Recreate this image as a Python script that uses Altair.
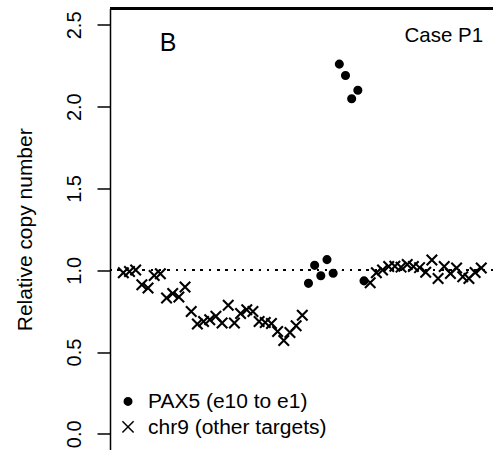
import altair as alt
import pandas as pd

# target positions (1-based order along chr9)
chr9_pos = [1, 2, 3, 4, 5, 6, 7, 8, 9, 10, 11, 12, 13, 14, 15, 16, 17, 18, 19, 20,
            21, 22, 23, 24, 25, 26, 27, 28, 29, 30,
            41, 42, 43, 44, 45, 46, 47, 48, 49, 50, 51, 52, 53, 54, 55, 56, 57, 58, 59]
chr9_val = [0.985, 0.992, 1.002, 0.911, 0.891, 0.968, 0.978, 0.831, 0.858, 0.837,
            0.897, 0.748, 0.672, 0.686, 0.697, 0.719, 0.677, 0.786, 0.677, 0.735,
            0.758, 0.748, 0.686, 0.680, 0.675, 0.625, 0.570, 0.619, 0.660, 0.725,
            0.923, 0.984, 1.002, 1.023, 1.025, 1.019, 1.035, 1.023, 1.016, 0.987,
            1.062, 0.949, 1.023, 0.980, 1.013, 0.960, 0.950, 0.986, 1.014]
pax5_pos = [31, 32, 33, 34, 35, 36, 37, 38, 39, 40]
pax5_val = [0.920, 1.030, 0.966, 1.065, 0.982, 2.260, 2.190, 2.048, 2.100, 0.935]

series_names = ["PAX5 (e10 to e1)", "chr9 (other targets)"]

# annotation / legend anchor positions in data units
ann_x = [6.9, 59.3]
ann_y = [2.343, 2.393]
ann_text = ["B", "Case P1"]
leg_sym_x = [1.76, 1.76]
leg_sym_y = [0.198, 0.043]
leg_txt_x = [5.0, 5.0]
leg_txt_y = [0.157, 0.002]

FONT = "Liberation Sans"
CROSS = "M-1.5,-1.5L1.5,1.5M-1.5,1.5L1.5,-1.5"
CROSS_SMALL = "M-1.25,-1.25L1.25,1.25M-1.25,1.25L1.25,-1.25"

df = pd.DataFrame({
    "pos": pax5_pos + chr9_pos,
    "val": pax5_val + chr9_val,
    "series": [series_names[0]] * len(pax5_pos) + [series_names[1]] * len(chr9_pos),
})
ann = pd.DataFrame({"x": ann_x, "y": ann_y, "t": ann_text})
leg = pd.DataFrame({"sx": leg_sym_x, "sy": leg_sym_y, "tx": leg_txt_x, "ty": leg_txt_y,
                    "series": series_names})

xscale = alt.Scale(domain=[-1.16, 60.9], nice=False, zero=False)
yscale = alt.Scale(domain=[-0.1, 2.6], nice=False, zero=False)

points = alt.Chart(df).mark_point(
    filled=False, fill="black", stroke="black", strokeWidth=2.1, opacity=1,
    fillOpacity=1, strokeOpacity=1, size=49
).encode(
    x=alt.X("pos:Q", scale=xscale,
            axis=alt.Axis(title=None, labels=False, ticks=False, grid=False,
                          domain=True, domainColor="black", domainWidth=1.5)),
    y=alt.Y("val:Q", scale=yscale,
            axis=alt.Axis(title="Relative copy number", values=[0, 0.5, 1.0, 1.5, 2.0, 2.5],
                          format=".1f", grid=False, domainColor="black", domainWidth=1.5,
                          tickColor="black", tickWidth=1.5, tickSize=13,
                          labelFont=FONT, labelFontSize=20, labelColor="black",
                          labelAngle=270, labelAlign="center", labelBaseline="alphabetic",
                          labelPadding=17,
                          titleFont=FONT, titleFontSize=21, titleFontWeight="normal",
                          titleColor="black", titleAngle=270, titleAlign="center",
                          titleBaseline="alphabetic", titleX=-78.5, titleY=220.8)),
    shape=alt.Shape("series:N",
                    scale=alt.Scale(domain=series_names, range=["circle", CROSS]),
                    legend=None),
)

leg_syms = alt.Chart(leg).mark_point(
    filled=False, fill="black", stroke="black", strokeWidth=1.5, opacity=1,
    fillOpacity=1, strokeOpacity=1, size=56
).encode(
    x=alt.X("sx:Q", scale=xscale),
    y=alt.Y("sy:Q", scale=yscale),
    shape=alt.Shape("series:N",
                    scale=alt.Scale(domain=series_names, range=["circle", CROSS_SMALL]),
                    legend=None),
)

leg_text = alt.Chart(leg).mark_text(
    font=FONT, fontSize=21, align="left", baseline="alphabetic", color="black"
).encode(x=alt.X("tx:Q", scale=xscale), y=alt.Y("ty:Q", scale=yscale), text="series:N")

ref = alt.Chart(df).mark_rule(color="black", strokeWidth=1.3, strokeDash=[1.6, 6.7]).encode(
    y=alt.datum(1.0)
)

top_border = alt.Chart(df).mark_rule(color="black", strokeWidth=1.5).encode(
    y=alt.value(0)
)

b_text = alt.Chart(ann[ann.t == "B"]).mark_text(
    font=FONT, fontSize=25, align="left", baseline="alphabetic", color="black"
).encode(x=alt.X("x:Q", scale=xscale), y=alt.Y("y:Q", scale=yscale), text="t:N")

case_text = alt.Chart(ann[ann.t == "Case P1"]).mark_text(
    font=FONT, fontSize=20.5, align="right", baseline="alphabetic", color="black"
).encode(x=alt.X("x:Q", scale=xscale), y=alt.Y("y:Q", scale=yscale), text="t:N")

chart = alt.layer(ref, top_border, points, leg_syms, leg_text, b_text, case_text).properties(
    width=383, height=441.7,
    autosize=alt.AutoSizeParams(type="none"),
    padding={"left": 110, "top": 8.5, "right": 0, "bottom": 0},
    background="white",
).configure_view(stroke=None)

chart.save("out.html", embed_options={"renderer": "svg", "actions": False})
